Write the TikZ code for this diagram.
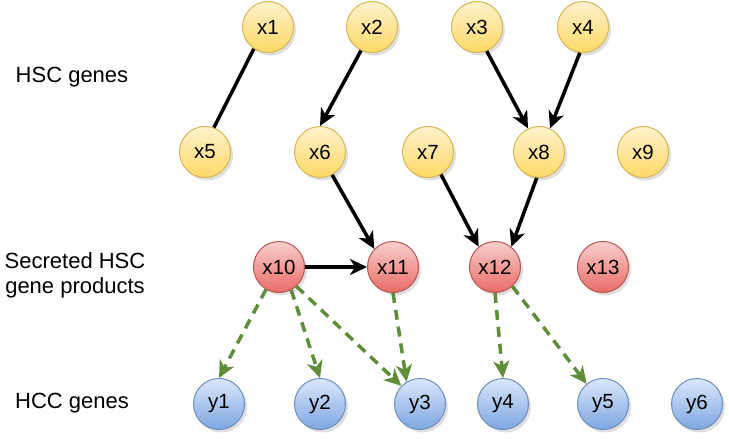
\documentclass[tikz,border=0pt]{standalone}
\usepackage{fontspec}
\setmainfont{Liberation Sans}
\usetikzlibrary{arrows.meta,shadows}
\definecolor{ylwtop}{HTML}{FFF2CC}
\definecolor{ylwbot}{HTML}{FFD966}
\definecolor{ylwline}{HTML}{D6B656}
\definecolor{redtop}{HTML}{F8CECC}
\definecolor{redbot}{HTML}{EA6B66}
\definecolor{redline}{HTML}{B85450}
\definecolor{blutop}{HTML}{DAE8FC}
\definecolor{blubot}{HTML}{7EA6E0}
\definecolor{bluline}{HTML}{6C8EBF}
\definecolor{edgegreen}{HTML}{5E8E3A}
\tikzset{
  gene/.style={circle, minimum size=51pt, inner sep=0pt, line width=1pt,
    font=\fontsize{20.5}{22}\selectfont,
    drop shadow={shadow xshift=2.5pt, shadow yshift=-3pt, opacity=0.25, fill=gray}},
  hsc/.style={gene, draw=ylwline, top color=ylwtop, bottom color=ylwbot},
  sec/.style={gene, draw=redline, top color=redtop, bottom color=redbot},
  hcc/.style={gene, draw=bluline, top color=blutop, bottom color=blubot},
  rowlabel/.style={font=\fontsize{22}{25}\selectfont, align=center},
  link/.style={line width=3.5pt, black},
  act/.style={link, -{Stealth[length=17pt,width=16pt,inset=5pt]}},
  effect/.style={line width=3.5pt, edgegreen, dash pattern=on 10pt off 7pt,
    -{Stealth[length=17pt,width=16pt,inset=5pt]}}
}
\begin{document}
\begin{tikzpicture}[x=1pt,y=1pt]
\useasboundingbox (0,0) rectangle (729,-439);
% row labels
\node[rowlabel] (lhsc) at (72,-77) {HSC genes};
\node[rowlabel] (lsec) at (75,-275) {Secreted HSC\\gene products};
\node[rowlabel] (lhcc) at (72,-403) {HCC genes};
% HSC genes
\node[hsc] (x1) at (268,-27) {x1};
\node[hsc] (x2) at (372,-27) {x2};
\node[hsc] (x3) at (477,-27) {x3};
\node[hsc] (x4) at (583,-27) {x4};
\node[hsc] (x5) at (205,-152) {x5};
\node[hsc] (x6) at (320,-152) {x6};
\node[hsc] (x7) at (428,-152) {x7};
\node[hsc] (x8) at (539,-152) {x8};
\node[hsc] (x9) at (643,-152) {x9};
% secreted products
\node[sec] (x10) at (279,-267) {x10};
\node[sec] (x11) at (393,-267) {x11};
\node[sec] (x12) at (495,-267) {x12};
\node[sec] (x13) at (603,-267) {x13};
% HCC genes
\node[hcc] (y1) at (219,-404) {y1};
\node[hcc] (y2) at (320,-404) {y2};
\node[hcc] (y3) at (420,-404) {y3};
\node[hcc] (y4) at (503,-404) {y4};
\node[hcc] (y5) at (603,-404) {y5};
\node[hcc] (y6) at (697,-404) {y6};
% regulation among HSC genes
\draw[link] (x1.-123) -- (x5.70);
\draw[act] (x2.-115) -- (x6.north);
\draw[act] (x3.-68) -- (x8.115);
\draw[act] (x4.-97) -- (x8.65);
\draw[act] (x6.-62) -- (x11.136);
\draw[act] (x7.-60) -- (x12.129);
\draw[act] (x8.-95) -- (x12.51);
\draw[act] (x10.east) -- (x11.west);
% effects on HCC genes
\draw[effect] (x10.-120) -- (y1.north);
\draw[effect] (x10.-62) -- (y2.north);
\draw[effect] (x10.-48) -- (y3.136);
\draw[effect] (x11.south) -- (y3.121);
\draw[effect] (x12.south) -- (y4.north);
\draw[effect] (x12.-48) -- (y5.129);
\end{tikzpicture}
\end{document}
